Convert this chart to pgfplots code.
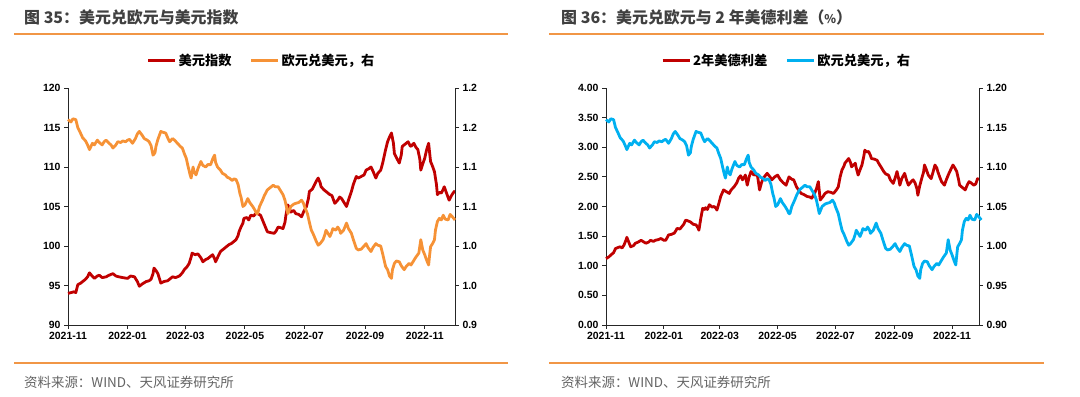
\documentclass[border=0pt]{standalone}
\usepackage{pgfplots}
\usepackage{pgfplotstable}
\pgfplotsset{compat=1.18}
\usepackage{fontspec}
\setmainfont{Liberation Sans}
\newfontfamily\cjk{Noto Sans CJK SC}
\definecolor{cred}{RGB}{192,0,0}
\definecolor{corange}{RGB}{246,146,54}
\definecolor{cblue}{RGB}{0,176,240}
\definecolor{crule}{RGB}{241,150,70}
\definecolor{ctitle}{RGB}{64,64,64}
\definecolor{csrc}{RGB}{100,100,100}

% days since 2021-11-01
\pgfplotstableread{
d v
0 94.0
3 94.1
6 94.2
8 94.1
10 95.1
13 95.3
15 95.5
18 95.8
20 96.1
22 96.6
24 96.3
27 95.9
30 96.2
32 96.3
35 96.0
39 96.1
42 96.3
46 96.5
49 96.2
52 96.1
56 96.0
61 95.9
64 96.2
68 96.1
71 95.5
73 94.9
76 95.2
80 95.5
83 95.6
85 95.8
87 96.5
88 97.2
90 96.9
92 96.5
94 95.7
95 95.3
98 95.5
102 95.6
105 95.9
107 96.1
110 96.0
114 96.2
117 96.6
119 97.0
122 97.4
124 97.8
126 98.6
127 99.1
130 98.9
133 99.0
136 98.5
138 98.0
141 98.3
143 98.4
146 98.7
148 98.9
150 98.4
151 98.0
154 98.8
156 99.3
159 99.6
162 99.9
165 100.2
167 100.3
170 100.6
172 100.8
174 101.3
175 101.8
177 102.4
179 102.9
180 103.5
183 103.6
185 103.3
187 103.9
190 103.8
192 104.1
194 104.1
197 103.9
199 103.3
201 102.7
204 101.8
207 101.7
211 101.6
213 101.9
215 102.4
218 102.3
220 102.2
222 103.0
223 103.9
225 105.2
227 104.6
228 104.3
231 104.5
233 104.1
236 104.0
239 103.7
241 104.3
244 105.0
246 106.0
247 106.9
250 107.2
252 107.7
254 108.2
256 108.6
258 108.0
259 107.5
262 107.1
265 106.8
268 106.5
270 106.4
273 105.4
276 105.8
278 106.2
280 106.0
281 105.8
283 105.4
285 105.0
287 105.8
290 106.9
292 107.8
295 108.8
297 108.6
300 108.8
303 109.0
305 109.6
308 109.8
310 110.0
312 109.5
315 108.6
317 109.2
320 109.6
322 110.5
325 112.2
327 113.2
329 113.8
331 114.3
333 113.0
334 111.7
336 111.2
339 110.5
341 111.5
342 112.6
345 112.9
348 113.2
350 112.7
351 112.6
353 112.9
354 113.0
356 112.5
358 112.2
360 111.0
361 109.6
363 110.4
365 111.1
367 112.2
369 113.0
371 110.7
373 110.1
375 109.4
377 107.8
378 106.5
380 106.8
382 106.7
384 107.2
385 107.5
387 106.8
390 105.8
392 106.3
394 106.7
396 107.0
}\dxy

\pgfplotstableread{
d v
0 1.160
3 1.157
5 1.161
8 1.160
10 1.150
12 1.145
15 1.137
18 1.133
20 1.128
22 1.122
25 1.130
27 1.128
30 1.134
32 1.131
35 1.128
37 1.132
39 1.134
42 1.130
44 1.128
46 1.124
49 1.128
51 1.132
54 1.131
56 1.133
59 1.132
61 1.134
63 1.135
66 1.130
69 1.136
71 1.142
73 1.145
76 1.140
78 1.136
81 1.134
83 1.132
85 1.127
87 1.115
89 1.118
90 1.126
92 1.135
95 1.145
97 1.144
100 1.143
102 1.137
104 1.132
107 1.136
109 1.134
112 1.130
115 1.126
117 1.124
119 1.117
121 1.111
123 1.100
125 1.090
126 1.086
128 1.100
129 1.094
131 1.090
133 1.098
136 1.107
138 1.102
141 1.100
143 1.103
146 1.103
148 1.110
150 1.115
151 1.106
153 1.100
156 1.096
158 1.092
161 1.090
163 1.087
165 1.086
168 1.083
170 1.085
172 1.084
174 1.078
176 1.066
177 1.062
179 1.050
181 1.052
184 1.060
186 1.055
189 1.050
191 1.046
193 1.041
194 1.041
196 1.050
199 1.058
201 1.064
204 1.071
207 1.074
210 1.077
212 1.075
215 1.075
218 1.069
220 1.065
222 1.058
224 1.047
225 1.041
228 1.050
231 1.053
233 1.054
236 1.055
239 1.058
241 1.054
242 1.050
245 1.041
247 1.030
249 1.020
251 1.015
252 1.012
254 1.006
256 1.001
258 1.003
261 1.008
263 1.015
264 1.020
266 1.016
268 1.012
270 1.018
271 1.022
274 1.020
276 1.024
278 1.020
279 1.016
282 1.020
285 1.029
287 1.022
290 1.016
292 1.008
295 0.997
297 0.995
300 0.996
303 1.000
305 1.003
307 0.998
310 0.993
312 0.998
315 1.003
317 1.001
320 1.000
322 0.990
325 0.974
327 0.970
329 0.962
331 0.959
332 0.970
334 0.978
336 0.981
339 0.980
341 0.975
344 0.970
346 0.974
349 0.978
351 0.976
354 0.982
356 0.986
359 0.991
361 1.008
363 0.995
365 0.989
367 0.982
369 0.976
370 0.988
371 0.999
373 1.003
375 1.008
376 1.020
378 1.031
380 1.035
382 1.033
384 1.039
386 1.034
389 1.033
391 1.040
394 1.036
396 1.033
}\eur

\pgfplotstableread{
d v
0 1.12
3 1.15
5 1.18
8 1.22
10 1.29
13 1.31
15 1.32
17 1.30
19 1.35
21 1.43
22 1.48
24 1.40
26 1.32
29 1.34
31 1.38
34 1.40
37 1.43
40 1.40
42 1.38
45 1.40
47 1.43
50 1.41
52 1.43
55 1.44
58 1.46
61 1.43
63 1.43
66 1.52
69 1.53
72 1.55
74 1.60
75 1.63
78 1.62
80 1.66
82 1.70
84 1.77
86 1.76
89 1.74
92 1.70
95 1.69
97 1.64
98 1.60
100 1.80
102 1.97
104 1.95
105 1.98
107 1.95
109 2.03
112 1.99
114 2.00
116 1.97
117 1.94
119 2.05
121 2.17
124 2.28
127 2.25
130 2.22
132 2.28
135 2.33
138 2.40
140 2.48
142 2.52
144 2.45
146 2.50
147 2.53
149 2.36
151 2.50
153 2.59
156 2.53
158 2.55
160 2.50
162 2.28
164 2.40
166 2.48
168 2.52
170 2.56
173 2.50
175 2.45
178 2.50
181 2.53
184 2.45
187 2.40
190 2.36
193 2.50
196 2.46
198 2.45
201 2.33
204 2.26
206 2.22
209 2.20
212 2.17
215 2.16
217 2.14
220 2.22
222 2.30
224 2.42
226 2.11
229 2.17
231 2.22
234 2.25
237 2.24
240 2.22
243 2.28
245 2.33
247 2.50
249 2.62
251 2.68
252 2.73
254 2.77
256 2.81
258 2.74
259 2.67
261 2.70
263 2.73
264 2.65
266 2.53
268 2.62
270 2.70
272 2.85
273 2.95
275 2.92
277 2.93
279 2.86
280 2.81
283 2.80
286 2.78
288 2.72
290 2.67
293 2.59
295 2.55
298 2.53
300 2.45
303 2.39
305 2.48
307 2.59
309 2.45
310 2.36
312 2.47
315 2.56
317 2.45
319 2.36
322 2.42
324 2.45
326 2.40
328 2.30
329 2.19
331 2.35
333 2.47
335 2.58
336 2.70
338 2.62
340 2.53
343 2.47
345 2.58
347 2.70
349 2.65
350 2.59
352 2.50
354 2.42
356 2.38
357 2.36
359 2.45
361 2.53
363 2.60
366 2.70
368 2.65
370 2.59
372 2.45
373 2.36
376 2.32
379 2.28
381 2.36
383 2.42
385 2.40
388 2.36
390 2.38
392 2.47
393.5 2.45
}\spread

\pgfplotsset{
  base/.style={
    anchor=south west, scale only axis, height=237bp,
    xmin=0,
    axis line style={-, line width=0.8bp, black!85},
    tick style={line width=0.8bp, black!85},
    major tick length=4bp, tick align=outside,
    tick label style={font=\bfseries\fontsize{10.5}{12}\selectfont},
    /pgf/number format/assume math mode=true,
    xtick={0,61,120,181,242,304,365},
    xticklabels={2021-11,2022-01,2022-03,2022-05,2022-07,2022-09,2022-11},
    legend style={draw=none, fill=none, legend columns=2,
      font=\cjk\bfseries\fontsize{13.3}{15}\selectfont,
      /tikz/every even column/.append style={column sep=16bp},
      inner sep=0pt, anchor=center},
    legend image code/.code={\draw[##1,line width=3bp] (0bp,0bp) -- (27bp,0bp);},
    clip=false,
  },
  leftax/.style={base, axis y line*=left, axis x line*=bottom},
  rightax/.style={base, axis y line*=right, axis x line=none,
    ymin=0.9, ymax=1.2, ytick={0.9,0.95,1.0,1.05,1.1,1.15,1.2}},
}

\begin{document}
\begin{tikzpicture}
\path[use as bounding box] (0bp,0bp) rectangle (1080bp,397bp);

% ---------- panel 1 ----------
\draw[crule, line width=1.6bp] (14bp,363bp) -- (508bp,363bp);
\draw[crule, line width=1.6bp] (14bp,34bp) -- (508bp,34bp);
\node[anchor=west, text=ctitle, font=\cjk\bfseries\fontsize{16}{18}\selectfont, inner sep=0pt] at (24bp,380bp) {图 35：美元兑欧元与美元指数};
\node[anchor=west, text=csrc, font=\cjk\fontsize{13.5}{15}\selectfont, inner sep=0pt] at (24bp,15bp) {资料来源：WIND、天风证券研究所};

\begin{axis}[leftax, at={(68bp,72bp)}, width=387bp, xmax=396,
  ymin=90, ymax=120, ytick={90,95,100,105,110,115,120}]
\addplot[cred, line width=2.8bp, line join=round] table[x=d,y=v] {\dxy};
\end{axis}
\begin{axis}[rightax, at={(68bp,72bp)}, width=387bp, xmax=396,
  yticklabels={0.9,1.0,1.0,1.1,1.1,1.2,1.2},
  legend style={at={(0.5,1.118)}}]
\addlegendimage{cred}
\addlegendentry{美元指数}
\addplot[corange, line width=2.8bp, line join=round] table[x=d,y=v] {\eur};
\addlegendentry{欧元兑美元，右}
\end{axis}

% ---------- panel 2 ----------
\draw[crule, line width=1.6bp] (549bp,363bp) -- (1044bp,363bp);
\draw[crule, line width=1.6bp] (549bp,34bp) -- (1044bp,34bp);
\node[anchor=west, text=ctitle, font=\cjk\bfseries\fontsize{16}{18}\selectfont, inner sep=0pt] at (561bp,380bp) {图 36：美元兑欧元与 2 年美德利差（{\fontsize{12}{14}\selectfont\%}）};
\node[anchor=west, text=csrc, font=\cjk\fontsize{13.5}{15}\selectfont, inner sep=0pt] at (561bp,15bp) {资料来源：WIND、天风证券研究所};

\begin{axis}[leftax, at={(606bp,72bp)}, width=373bp, xmax=393.5,
  ymin=0, ymax=4, ytick={0,0.5,1,1.5,2,2.5,3,3.5,4},
  yticklabel style={/pgf/number format/.cd, fixed, fixed zerofill, precision=2}]
\addplot[cred, line width=2.8bp, line join=round] table[x=d,y=v] {\spread};
\end{axis}
\begin{axis}[rightax, at={(606bp,72bp)}, width=373bp, xmax=393.5,
  yticklabel style={/pgf/number format/.cd, fixed, fixed zerofill, precision=2},
  legend style={at={(0.484,1.118)}}]
\addlegendimage{cred}
\addlegendentry{2年美德利差}
\addplot[cblue, line width=2.8bp, line join=round] table[x=d,y=v] {\eur};
\addlegendentry{欧元兑美元，右}
\end{axis}
\end{tikzpicture}
\end{document}
